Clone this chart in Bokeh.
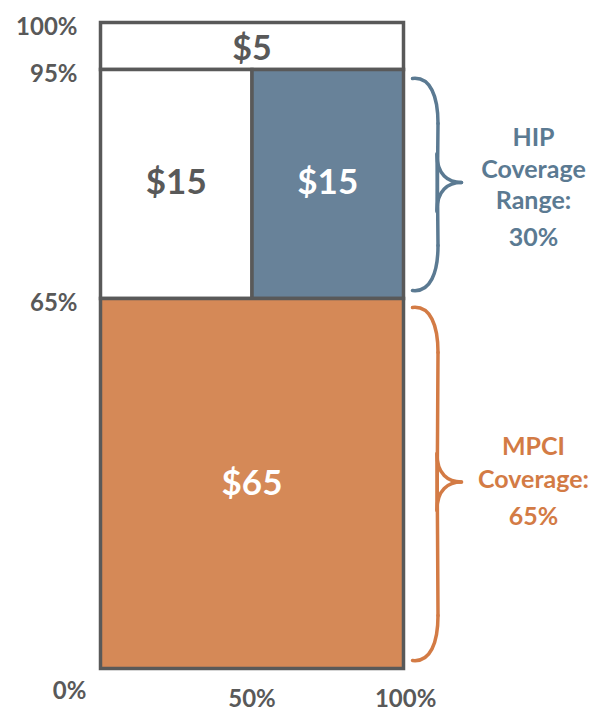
import numpy as np
from bokeh.plotting import figure
from bokeh.models import Range1d
from bokeh.core.properties import value
from bokeh.embed import file_html
from bokeh.resources import INLINE

# ---------------- data ----------------
seg_labels = ["$5", "$15", "$15", "$65"]
seg_left = [0, 0, 50, 0]
seg_right = [100, 50, 100, 100]
seg_bottom = [95, 65, 65, 0]
seg_top = [100, 95, 95, 65]

y_tick_values = [100, 95, 65]
y_tick_labels = ["100%", "95%", "65%"]
x_tick_values = [0, 50, 100]
x_tick_labels = ["0%", "50%", "100%"]

brace_bottom = [65, 0]
brace_top = [95, 65]
brace_text = [["HIP", "Coverage", "Range:", "30%"],
              ["MPCI", "Coverage:", "65%"]]

# ---------------- styles / layout ----------------
GRAY = "#595959"
BLUE_FILL = "#688299"
BLUE = "#5B7A92"
ORANGE_FILL = "#D58957"
ORANGE = "#D37B45"
seg_fill = ["#FFFFFF", "#FFFFFF", BLUE_FILL, ORANGE_FILL]
seg_text_color = [GRAY, GRAY, "#FFFFFF", "#FFFFFF"]
brace_colors = [BLUE, ORANGE]
FONT = "Lato"

W, H = 601, 714
FRAME_L_PX = 100         # canvas px of x = 0
PX_PER_X = 303 / 100.0   # canvas px per x unit
ZERO_PX = 668            # canvas px of y = 0
# piecewise display mapping for y (display units = px above the 0% line)
Y_KNOTS = [0, 65, 95, 100]
Y_DISP = [0, 370, 599, 646]


def yd(v):
    return np.interp(v, Y_KNOTS, Y_DISP)


def xpx(px):
    return (px - FRAME_L_PX) / PX_PER_X


def ypx(py):
    return ZERO_PX - py


p = figure(width=W, height=H, output_backend="svg", toolbar_location=None,
           x_range=Range1d(-FRAME_L_PX / PX_PER_X, (W - FRAME_L_PX) / PX_PER_X),
           y_range=Range1d(ZERO_PX - H, ZERO_PX), min_border=0)
p.axis.visible = False
p.grid.visible = False
p.outline_line_color = None
p.background_fill_color = "white"

# segments
p.quad(left=seg_left, right=seg_right,
       bottom=[float(yd(v)) for v in seg_bottom], top=[float(yd(v)) for v in seg_top],
       fill_color=seg_fill, line_color=GRAY, line_width=3.5, line_join="miter")

# segment labels
cx = [(l + r) / 2 for l, r in zip(seg_left, seg_right)]
cy = [float((yd(b) + yd(t)) / 2) for b, t in zip(seg_bottom, seg_top)]
cy[1] += 4
cy[2] += 4
cy[3] += 3
sizes = ["34px", "35px", "35px", "35px"]
for i in range(len(seg_labels)):
    p.text(x=[cx[i]], y=[cy[i]], text=[seg_labels[i]], text_align="center",
           text_baseline="middle", text_color=seg_text_color[i],
           text_font=value(FONT), text_font_style="bold", text_font_size=sizes[i])

# y tick labels
p.text(x=[xpx(77)] * len(y_tick_values), y=[float(yd(v)) - 3 for v in y_tick_values],
       text=y_tick_labels, text_align="right", text_baseline="middle",
       text_color=GRAY, text_font=value(FONT), text_font_style="bold",
       text_font_size="24px")

# x tick labels (0% sits higher and further left as in the reference)
x_lab_x = [xpx(69), x_tick_values[1], x_tick_values[2] + 0.7]
x_lab_y = [ypx(689), ypx(697), ypx(697)]
p.text(x=x_lab_x, y=x_lab_y, text=x_tick_labels, text_align="center",
       text_baseline="middle", text_color=GRAY, text_font=value(FONT),
       text_font_style="bold", text_font_size="24px")

# braces
XE, XS, XT = xpx(412), xpx(437.5), xpx(461)
DX = 1 / PX_PER_X
for b, t, col, lines in zip(brace_bottom, brace_top, brace_colors, brace_text):
    top = float(yd(t)) - 9
    bot = float(yd(b)) + 8
    mid = (top + bot) / 2 + 2
    x0, y0, x1, y1, c0x, c0y, c1x, c1y = [], [], [], [], [], [], [], []

    def add(a, bpt, c0, c1):
        x0.append(a[0]); y0.append(a[1]); x1.append(bpt[0]); y1.append(bpt[1])
        c0x.append(c0[0]); c0y.append(c0[1]); c1x.append(c1[0]); c1y.append(c1[1])

    # top hook, gently curving into the stem
    add((XE, top), (XS, top - 45), (XE + 18 * DX, top + 2), (XS, top - 18))
    # stem to tip
    add((XS, top - 45), (XS - 1 * DX, mid - 28), (XS, top - 55), (XS - 1 * DX, mid - 40))
    add((XS - 1 * DX, mid - 28), (XT, mid), (XS - 1 * DX, mid - 8), (XS + 10 * DX, mid))
    # mirror
    add((XT, mid), (XS - 1 * DX, mid + 28), (XS + 10 * DX, mid), (XS - 1 * DX, mid + 8))
    add((XS - 1 * DX, mid + 28), (XS, bot + 45), (XS - 1 * DX, mid + 40), (XS, bot + 55))
    add((XS, bot + 45), (XE, bot), (XS, bot + 18), (XE + 18 * DX, bot - 2))
    p.bezier(x0=x0, y0=y0, x1=x1, y1=y1, cx0=c0x, cy0=c0y, cx1=c1x, cy1=c1y,
             line_color=col, line_width=3.5, line_cap="round")

    # text
    n = len(lines)
    if n == 4:
        offs = [47, 15, -16, -53]
    else:
        offs = [37, 4, -33]
    p.text(x=[xpx(533)] * n, y=[mid + o for o in offs], text=lines,
           text_align="center", text_baseline="middle", text_color=col,
           text_font=value(FONT), text_font_style="bold", text_font_size="25px")

open("out.html", "w").write(file_html(p, INLINE))
